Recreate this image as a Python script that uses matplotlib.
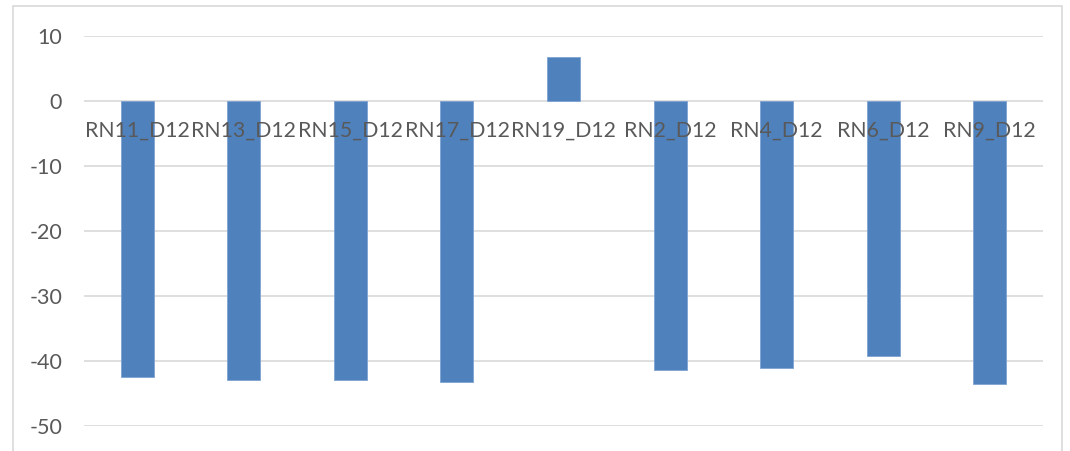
import matplotlib.pyplot as plt
from matplotlib.patches import Rectangle

categories = ["RN11_D12", "RN13_D12", "RN15_D12", "RN17_D12", "RN19_D12",
              "RN2_D12", "RN4_D12", "RN6_D12", "RN9_D12"]
values = [-42.5, -42.9, -43.0, -43.3, 6.8, -41.4, -41.1, -39.2, -43.6]
yticks = [10, 0, -10, -20, -30, -40, -50]

plt.rcParams['font.family'] = ['Lato', 'DejaVu Sans']
text_color = "#595959"

fig = plt.figure(figsize=(10.70, 4.51), dpi=100)
ax = fig.add_axes([84 / 1070, 1 - 426 / 451, (1043 - 84) / 1070, (426 - 35.7) / 451])

x = list(range(len(categories)))
ax.bar(x, values, width=0.31, color="#4f81bd", edgecolor="#7ea3d3", linewidth=0.6, zorder=3)

ax.set_xlim(-0.5, len(categories) - 0.5)
ax.set_ylim(-50, 10)
ax.set_yticks(yticks)
ax.set_yticklabels([str(t) for t in yticks], color=text_color, fontsize=15.5)
ax.tick_params(axis='y', length=0, pad=15.8)
ax.set_xticks([])
ax.grid(axis='y', color="#d9d9d9", linewidth=1.2, zorder=0)
for s in ax.spines.values():
    s.set_visible(False)

# category labels sit just under the zero line, like Excel does
for i, name in enumerate(categories):
    ax.text(i, -4.65, name, ha='center', va='center', color=text_color, fontsize=15.3, zorder=4)

# outer chart border
fig.patches.append(Rectangle((13 / 1070, -0.05), (1062 - 13) / 1070, 1.05 - 6 / 451,
                             transform=fig.transFigure, fill=False,
                             edgecolor="#d9d9d9", linewidth=1.2))

fig.savefig("out.png", dpi=100)
